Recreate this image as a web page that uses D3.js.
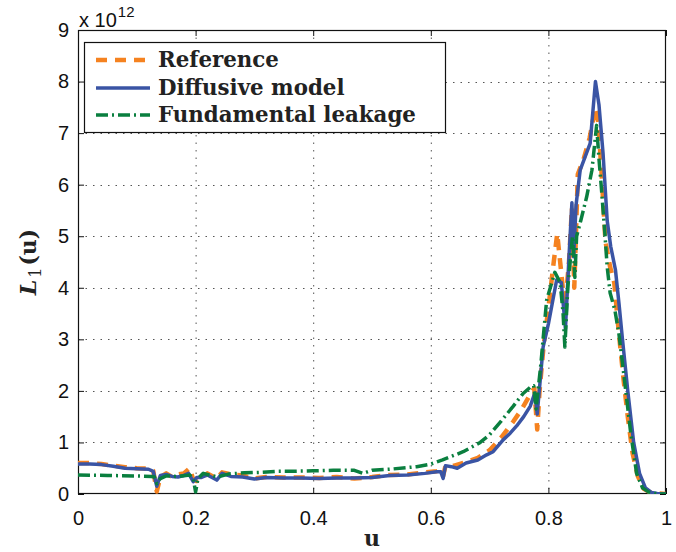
<!DOCTYPE html>
<html><head><meta charset="utf-8">
<script src="https://cdn.jsdelivr.net/npm/d3@7"></script>
<style>body{margin:0;background:#fff}</style>
</head><body><svg id="c" width="676" height="552"></svg>
<script>
// ---- data (L1 in units of 1e12) ----
const seriesNames = ["Reference", "Diffusive model", "Fundamental leakage"];
const xTicks = [0, 0.2, 0.4, 0.6, 0.8, 1];
const yTicks = [0,1,2,3,4,5,6,7,8,9];
const reference = [[0,0.6],[0.02,0.6],[0.04,0.58],[0.06,0.55],[0.08,0.52],[0.1,0.5],[0.12,0.49],[0.128,0.45],[0.134,0.05],[0.14,0.33],[0.15,0.4],[0.16,0.33],[0.17,0.38],[0.18,0.4],[0.19,0.5],[0.196,0.28],[0.202,0.25],[0.21,0.3],[0.22,0.4],[0.236,0.3],[0.245,0.42],[0.26,0.38],[0.28,0.36],[0.3,0.3],[0.32,0.33],[0.35,0.32],[0.38,0.32],[0.41,0.31],[0.44,0.33],[0.47,0.3],[0.5,0.33],[0.53,0.37],[0.56,0.38],[0.59,0.42],[0.61,0.44],[0.617,0.45],[0.621,0.35],[0.625,0.55],[0.64,0.55],[0.66,0.62],[0.68,0.7],[0.7,0.85],[0.72,1.1],[0.74,1.4],[0.755,1.65],[0.77,1.95],[0.776,2.05],[0.781,1.25],[0.785,2.0],[0.792,2.9],[0.8,3.6],[0.808,4.4],[0.815,5.05],[0.82,4.5],[0.828,3.6],[0.835,4.5],[0.84,5.55],[0.844,4.0],[0.85,6.2],[0.86,6.5],[0.87,6.9],[0.88,7.5],[0.885,7.2],[0.89,6.3],[0.897,4.9],[0.905,4.4],[0.912,4.1],[0.92,3.1],[0.928,2.2],[0.935,1.5],[0.943,0.8],[0.952,0.35],[0.962,0.1],[0.975,0.02],[1.0,0.0]];
const diffusive = [[0,0.58],[0.02,0.58],[0.04,0.57],[0.06,0.54],[0.08,0.5],[0.1,0.49],[0.12,0.48],[0.128,0.44],[0.134,0.15],[0.14,0.36],[0.15,0.38],[0.16,0.34],[0.17,0.33],[0.18,0.36],[0.188,0.4],[0.196,0.24],[0.202,0.32],[0.21,0.32],[0.22,0.37],[0.236,0.27],[0.245,0.4],[0.26,0.34],[0.28,0.33],[0.3,0.29],[0.32,0.32],[0.35,0.31],[0.38,0.31],[0.41,0.3],[0.44,0.31],[0.47,0.31],[0.5,0.32],[0.53,0.36],[0.56,0.37],[0.59,0.4],[0.61,0.43],[0.617,0.43],[0.621,0.3],[0.625,0.55],[0.635,0.53],[0.645,0.5],[0.66,0.6],[0.68,0.66],[0.695,0.76],[0.706,0.82],[0.723,1.05],[0.735,1.18],[0.746,1.32],[0.758,1.5],[0.769,1.7],[0.777,1.96],[0.781,1.55],[0.786,2.2],[0.791,2.85],[0.8,3.3],[0.814,4.15],[0.822,4.1],[0.829,3.2],[0.835,4.6],[0.84,5.65],[0.843,4.6],[0.847,5.6],[0.854,6.28],[0.871,6.8],[0.88,8.0],[0.886,7.55],[0.893,6.6],[0.9,5.3],[0.906,4.8],[0.914,4.35],[0.92,3.7],[0.926,3.0],[0.935,2.0],[0.945,1.0],[0.955,0.4],[0.965,0.12],[0.975,0.03],[0.985,0.01],[1.0,0.0]];
const leakage = [[0,0.37],[0.05,0.36],[0.1,0.35],[0.125,0.34],[0.13,0.33],[0.134,0.2],[0.14,0.3],[0.15,0.35],[0.17,0.34],[0.19,0.37],[0.196,0.3],[0.2,0.04],[0.204,0.3],[0.213,0.4],[0.237,0.33],[0.257,0.39],[0.283,0.41],[0.31,0.42],[0.337,0.44],[0.36,0.44],[0.4,0.45],[0.434,0.46],[0.47,0.46],[0.485,0.4],[0.5,0.46],[0.53,0.48],[0.576,0.53],[0.6,0.58],[0.62,0.66],[0.655,0.82],[0.684,1.0],[0.7,1.15],[0.72,1.42],[0.74,1.7],[0.757,1.95],[0.769,2.07],[0.775,2.1],[0.779,1.65],[0.787,2.5],[0.797,3.76],[0.811,4.3],[0.82,4.1],[0.825,3.5],[0.828,2.85],[0.833,4.0],[0.837,4.5],[0.841,5.0],[0.845,4.2],[0.848,5.0],[0.855,5.3],[0.865,5.76],[0.874,6.28],[0.882,7.15],[0.886,6.5],[0.89,5.95],[0.896,5.06],[0.9,4.4],[0.905,3.9],[0.913,3.57],[0.92,3.1],[0.93,2.15],[0.94,1.18],[0.95,0.4],[0.96,0.12],[0.97,0.04],[0.985,0.0],[1.0,0.0]];

// ---- layout ----
const svg = d3.select("#c");
const L = 78, R = 666, T = 30, B = 494;
const x = d3.scaleLinear().domain([0,1]).range([L,R]);
const y = d3.scaleLinear().domain([0,9]).range([B,T]);
const sans = "'Liberation Sans', Arial, sans-serif";
const serif = "'DejaVu Serif', serif";

// grid
const g = svg.append("g");
g.selectAll(".gx").data(xTicks.slice(1,-1)).join("line")
  .attr("x1",d=>x(d)+0.5).attr("x2",d=>x(d)+0.5).attr("y1",T).attr("y2",B)
  .attr("stroke","#555").attr("stroke-width",1).attr("stroke-dasharray","1.5,6");
g.selectAll(".gy").data(yTicks.slice(1,-1)).join("line")
  .attr("y1",d=>Math.round(y(d))+0.5).attr("y2",d=>Math.round(y(d))+0.5).attr("x1",L).attr("x2",R)
  .attr("stroke","#555").attr("stroke-width",1).attr("stroke-dasharray","1.5,6");

// axes (MATLAB box with inward ticks)
const ax = svg.append("g");
ax.append("g").attr("transform",`translate(0,${B})`)
  .call(d3.axisBottom(x).tickValues(xTicks).tickSize(-6).tickPadding(17).tickFormat(d3.format("")));
ax.append("g").attr("transform",`translate(0,${T})`)
  .call(d3.axisTop(x).tickValues(xTicks).tickSize(-6).tickFormat(""));
ax.append("g").attr("transform",`translate(${L},0)`)
  .call(d3.axisLeft(y).tickValues(yTicks).tickSize(-6).tickPadding(9).tickFormat(d3.format("d")));
ax.append("g").attr("transform",`translate(${R},0)`)
  .call(d3.axisRight(y).tickValues(yTicks).tickSize(-6).tickFormat(""));
ax.selectAll(".domain").remove();
ax.selectAll("text").attr("fill","#111").attr("font-family",sans).attr("font-size",20);
ax.selectAll("line").attr("stroke","#111");
svg.append("rect").attr("x",L+0.5).attr("y",T+0.5).attr("width",R-L-1).attr("height",B-T-1)
  .attr("fill","none").attr("stroke","#111").attr("stroke-width",1.2);

// exponent label
const ex = svg.append("text").attr("x",79).attr("y",27).attr("font-family",sans).attr("fill","#111").attr("font-size",20);
ex.append("tspan").text("x 10");
ex.append("tspan").attr("font-size",15).attr("dy",-10).attr("dx",1).text("12");

// lines
const line = d3.line().x(d=>x(d[0])).y(d=>y(d[1]));
const styles = [
  {data: reference, color:"#f58220", w:4.5, dash:"11,8"},
  {data: diffusive, color:"#3a54a4", w:3.5, dash:null},
  {data: leakage, color:"#0a7f3f", w:3.5, dash:"12,4,2,4"}
];
svg.append("clipPath").attr("id","pc").append("rect").attr("x",L).attr("y",T).attr("width",R-L).attr("height",B-T);
styles.forEach(s=>{
  svg.append("path").datum(s.data).attr("d",line).attr("fill","none")
    .attr("stroke",s.color).attr("stroke-width",s.w).attr("stroke-linejoin","round")
    .attr("stroke-dasharray",s.dash).attr("clip-path","url(#pc)");
});

// legend
const lg = svg.append("g");
lg.append("rect").attr("x",84.5).attr("y",42.5).attr("width",361).attr("height",90)
  .attr("fill","#fff").attr("stroke","#111").attr("stroke-width",1.2);
const rowsY = [60, 88, 115];
styles.forEach((s,i)=>{
  lg.append("line").attr("x1",96).attr("x2",150).attr("y1",rowsY[i]).attr("y2",rowsY[i])
    .attr("stroke",s.color).attr("stroke-width",s.w).attr("stroke-dasharray",s.dash);
  lg.append("text").attr("class","lt").attr("x",158).attr("y",rowsY[i]+7)
    .attr("font-family",serif).attr("font-weight","bold").attr("font-size",20).attr("fill","#222")
    .text(seriesNames[i]);
});
const longest = lg.selectAll(".lt").nodes()[2];
const len = longest.getComputedTextLength();
const fs = 20*258/len;
lg.selectAll(".lt").attr("font-size",fs);

// axis titles
svg.append("text").attr("x",372).attr("y",546).attr("text-anchor","middle")
  .attr("font-family",serif).attr("font-weight","bold").attr("font-size",22).attr("fill","#222").text("u");
const yt = svg.append("text").attr("transform","translate(36,262) rotate(-90)").attr("text-anchor","middle")
  .attr("font-family",serif).attr("font-weight","bold").attr("font-size",22).attr("fill","#222");
yt.append("tspan").attr("font-style","italic").text("L");
yt.append("tspan").attr("font-size",16).attr("dy",5).attr("dx",2).attr("font-weight","normal").text("1");
yt.append("tspan").attr("dy",-5).attr("dx",2).text("(u)");
</script></body></html>
